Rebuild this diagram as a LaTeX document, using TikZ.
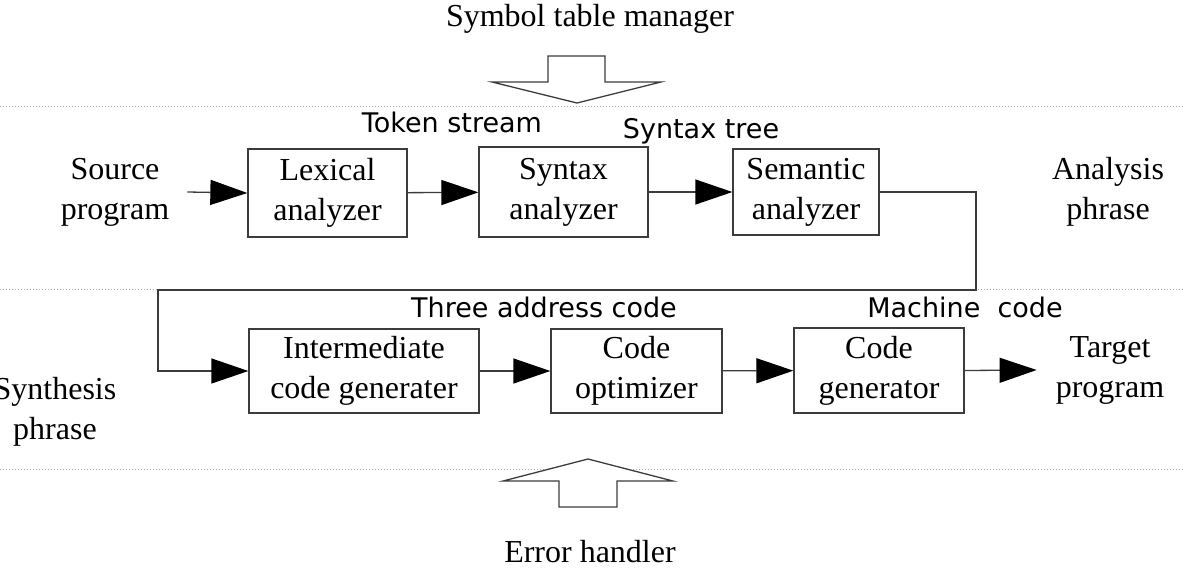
\documentclass[tikz,border=0pt]{standalone}
\usepackage{fontspec}
\setmainfont{Liberation Serif}
\newfontfamily\labelfont{DejaVu Sans}
\usepackage{tikz}
\usetikzlibrary{arrows.meta, positioning}
\definecolor{linegray}{RGB}{60,60,60}
\definecolor{dotgray}{RGB}{170,170,170}
\tikzset{
  phase/.style={rectangle, draw=linegray, line width=1.3pt, fill=white,
    font=\fontsize{32}{40}\selectfont, align=center, inner sep=0pt},
  flow/.style={draw=linegray, line width=1.3pt,
    -{Triangle[length=37pt, width=25pt, color=black]}},
  plain/.style={font=\fontsize{32}{40}\selectfont, align=center, inner sep=2pt},
}

\begin{document}
\begin{tikzpicture}[
  x=1pt, y=-1pt,
  lbl/.style={font=\labelfont\fontsize{27}{30}\selectfont, inner sep=0pt},
  sep/.style={draw=dotgray, line width=1pt, dotted},
  blockarrow/.style={draw=linegray, line width=1.3pt, fill=white, line join=miter},
]
\useasboundingbox (0,0) rectangle (1184,574);

% phase separators
\draw[sep] (0,106) -- (1184,106);
\draw[sep] (0,289) -- (1184,289);
\draw[sep] (0,469) -- (1184,469);

% side texts
\node[plain] (sym)  at (590,19)   {Symbol table manager};
\node[plain] (err)  at (590,552)  {Error handler};
\node[plain] (src)  at (115,192)  {Source\\program};
\node[plain] (ana)  at (1108,192) {Analysis\\phrase};
\node[plain] (syn)  at (55,412)   {Synthesis\\phrase};
\node[plain] (tgt)  at (1110,370) {Target\\program};

% analysis phase
\node[phase, minimum width=159pt, minimum height=88pt] (LA) at (327.5,193) {Lexical\\analyzer};
\node[phase, minimum width=169pt, minimum height=90pt] (SA) at (563.5,192) {Syntax\\analyzer};
\node[phase, minimum width=146pt, minimum height=86pt] (SE) at (806,192)   {Semantic\\analyzer};

% synthesis phase
\node[phase, minimum width=230pt, minimum height=84pt] (IC) at (364,371)   {Intermediate\\code generater};
\node[phase, minimum width=171pt, minimum height=84pt] (CO) at (636.5,371) {Code\\optimizer};
\node[phase, minimum width=170pt, minimum height=85pt] (CG) at (879,370.5) {Code\\generator};

% stream labels
\node[lbl] (tok) at (452,122) {Token stream};
\node[lbl] (tree) at (701,131) {Syntax tree};
\node[lbl] (tac) at (544,307) {Three address code};
\node[lbl] (mc)  at (965,307) {Machine\ \ code};

% connectors
\draw[flow] ([xshift=16pt]src.east) -- (LA.west);
\draw[flow] (LA) -- (SA);
\draw[flow] (SA.east) -- (SE.west);
\coordinate (turnR) at (976,290);
\coordinate (turnL) at (158,290);
\draw[flow] (SE.east) -| (turnR) -- (turnL) |- (IC.west);
\draw[flow] (IC) -- (CO);
\draw[flow] (CO) -- (CG);
\draw[flow] (CG.east) -- ([xshift=-17pt]tgt.west);

% symbol table and error handler
\draw[blockarrow] (548,56) -- (605,56) -- (605,82) -- (661,82) -- (577,103)
  -- (492,82) -- (548,82) -- cycle;
\draw[blockarrow] (559,507) -- (617,507) -- (617,481) -- (673,481) -- (588,459)
  -- (503,481) -- (559,481) -- cycle;

\end{tikzpicture}
\end{document}
